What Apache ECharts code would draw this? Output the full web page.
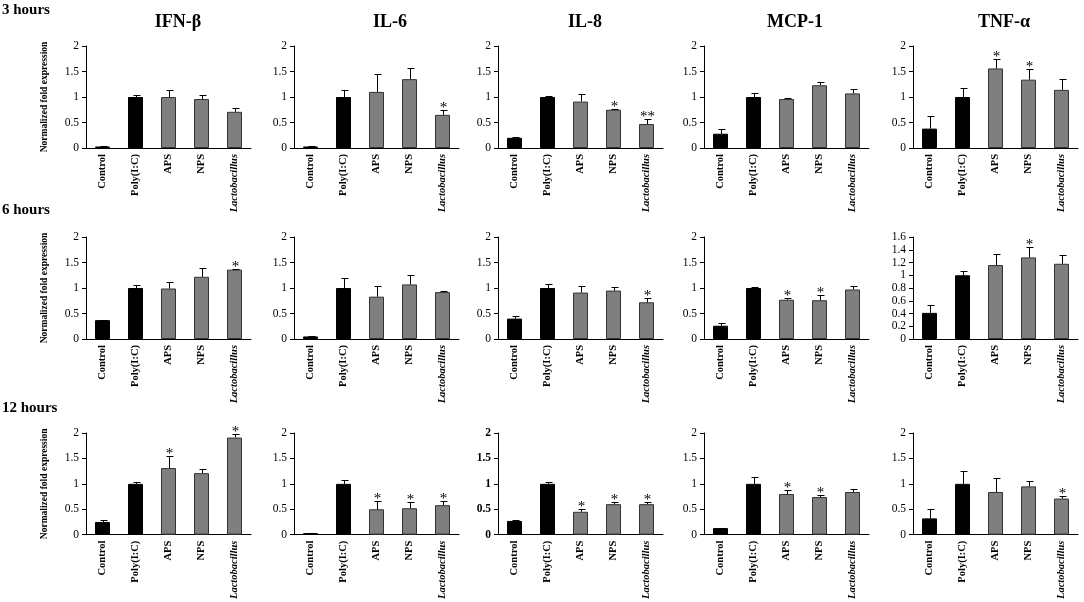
<!DOCTYPE html>
<html>
<head>
<meta charset="utf-8">
<script src="https://cdn.jsdelivr.net/npm/echarts@6/dist/echarts.min.js"></script>
<style>
  html, body { margin: 0; padding: 0; background: #fff; }
  #chart { width: 1084px; height: 602px; }
</style>
</head>
<body>
<div id="chart"></div>
<script>
// groups on the x axis and panel / row names
const categories = ['Control', 'Poly(I:C)', 'APS', 'NPS', 'Lactobacillus'];
const genes = ['IFN-β', 'IL-6', 'IL-8', 'MCP-1', 'TNF-α'];
const timepoints = ['3 hours', '6 hours', '12 hours'];

// 3 hours: one row per gene, values in category order
const mean3h = [
  [0.03, 1.00, 1.00, 0.96, 0.71],
  [0.03, 1.00, 1.10, 1.35, 0.65],
  [0.20, 1.00, 0.91, 0.75, 0.47],
  [0.28, 1.00, 0.96, 1.23, 1.07],
  [0.38, 1.00, 1.56, 1.34, 1.14]
];
const err3h = [
  [0.01, 0.04, 0.14, 0.07, 0.07],
  [0.01, 0.13, 0.35, 0.21, 0.10],
  [0.02, 0.02, 0.14, 0.02, 0.10],
  [0.09, 0.08, 0.02, 0.07, 0.09],
  [0.24, 0.18, 0.19, 0.20, 0.21]
];
const sig3h = [
  ['', '', '', '', ''],
  ['', '', '', '', '*'],
  ['', '', '', '*', '**'],
  ['', '', '', '', ''],
  ['', '', '*', '*', '']
];

// 6 hours
const mean6h = [
  [0.37, 1.00, 0.99, 1.22, 1.36],
  [0.05, 1.00, 0.83, 1.07, 0.92],
  [0.40, 1.00, 0.91, 0.95, 0.72],
  [0.26, 1.00, 0.77, 0.76, 0.97],
  [0.41, 1.00, 1.16, 1.28, 1.18]
];
const err6h = [
  [0.01, 0.06, 0.12, 0.17, 0.02],
  [0.01, 0.20, 0.20, 0.19, 0.03],
  [0.06, 0.07, 0.12, 0.06, 0.09],
  [0.05, 0.01, 0.04, 0.11, 0.07],
  [0.13, 0.06, 0.18, 0.17, 0.14]
];
const sig6h = [
  ['', '', '', '', '*'],
  ['', '', '', '', ''],
  ['', '', '', '', '*'],
  ['', '', '*', '*', ''],
  ['', '', '', '*', '']
];

// 12 hours
const mean12h = [
  [0.25, 1.00, 1.31, 1.21, 1.91],
  [0.03, 1.00, 0.50, 0.52, 0.58],
  [0.27, 1.00, 0.45, 0.60, 0.60],
  [0.13, 1.00, 0.80, 0.74, 0.84],
  [0.32, 1.00, 0.84, 0.95, 0.71]
];
const err12h = [
  [0.03, 0.04, 0.24, 0.08, 0.08],
  [0.01, 0.08, 0.16, 0.12, 0.09],
  [0.01, 0.04, 0.05, 0.05, 0.05],
  [0.01, 0.13, 0.07, 0.05, 0.05],
  [0.19, 0.26, 0.28, 0.11, 0.06]
];
const sig12h = [
  ['', '', '*', '', '*'],
  ['', '', '*', '*', '*'],
  ['', '', '*', '*', '*'],
  ['', '', '*', '*', ''],
  ['', '', '', '', '*']
];

// y axis ranges per time point and gene
const yMax = [[2, 2, 2, 2, 2], [2, 2, 2, 2, 1.6], [2, 2, 2, 2, 2]];
const yStep = [[0.5, 0.5, 0.5, 0.5, 0.5], [0.5, 0.5, 0.5, 0.5, 0.2], [0.5, 0.5, 0.5, 0.5, 0.5]];

const means = [mean3h, mean6h, mean12h];
const errs = [err3h, err6h, err12h];
const sigs = [sig3h, sig6h, sig12h];

const SERIF = '"Liberation Serif", "Times New Roman", serif';
const panelLeft = [86, 294, 498, 704, 913];
const panelWidth = 165;
const rowTop = [46, 237, 433];
const rowHeight = [102, 102, 103];
const titleX = [178, 390, 585, 795, 1004];

const grid = [], xAxis = [], yAxis = [], series = [];
const graphic = [];

timepoints.forEach((tp, r) => {
  graphic.push({
    type: 'text', left: 2, top: [3, 203, 401][r],
    style: { text: tp, font: 'bold 15px ' + SERIF, fill: '#000' }
  });
  genes.forEach((g, c) => {
    const k = grid.length;
    grid.push({ left: panelLeft[c], top: rowTop[r], width: panelWidth, height: rowHeight[r] });
    xAxis.push({
      type: 'category', gridIndex: k, data: categories,
      axisLine: { lineStyle: { color: '#000', width: 1 } },
      axisTick: { length: 4, lineStyle: { color: '#000' } },
      axisLabel: {
        rotate: 90, margin: 6, color: '#000',
        fontFamily: SERIF, fontWeight: 'bold', fontSize: 10.5,
        formatter: v => v === 'Lactobacillus' ? '{i|' + v + '}' : v,
        rich: { i: { fontStyle: 'italic', fontWeight: 'bold', fontFamily: SERIF, fontSize: 10.5, color: '#000' } }
      }
    });
    yAxis.push({
      type: 'value', gridIndex: k, min: 0, max: yMax[r][c], interval: yStep[r][c],
      name: c === 0 ? 'Normalized fold expression' : '',
      nameLocation: 'middle', nameGap: 36, nameRotate: 90,
      nameTextStyle: { fontFamily: SERIF, fontWeight: 'bold', fontSize: 9.5, color: '#000' },
      splitLine: { show: false },
      axisLine: { show: true, lineStyle: { color: '#000', width: 1 } },
      axisTick: { show: true, length: 4, lineStyle: { color: '#000' } },
      axisLabel: {
        color: '#000', fontFamily: SERIF, fontSize: 11.5, margin: 7,
        fontWeight: (r === 2 && c === 2) ? 'bold' : 'normal'
      }
    });
    const m = means[r][c], e = errs[r][c], s = sigs[r][c];
    series.push({
      type: 'bar', xAxisIndex: k, yAxisIndex: k, barWidth: 15,
      data: m.map((v, i) => ({
        value: v,
        itemStyle: i < 2
          ? { color: '#000', borderColor: '#000', borderWidth: 1 }
          : { color: '#7f7f7f', borderColor: '#333', borderWidth: 1 }
      })),
      animation: false
    });
    // upper error bar with cap, plus significance mark
    series.push({
      type: 'custom', xAxisIndex: k, yAxisIndex: k,
      data: m.map((v, i) => [i, v, e[i]]),
      renderItem: (params, api) => {
        const i = api.value(0), v = api.value(1), d = api.value(2);
        const p0 = api.coord([i, v]);
        const p1 = api.coord([i, v + d]);
        const x = Math.round(p0[0]) + 0.5;
        const y = Math.round(p1[1]) + 0.5;
        const children = [
          { type: 'line', shape: { x1: x, y1: p0[1], x2: x, y2: y }, style: { stroke: '#000', lineWidth: 1 } },
          { type: 'line', shape: { x1: x - 3, y1: y, x2: x + 4, y2: y }, style: { stroke: '#000', lineWidth: 1 } }
        ];
        const star = s[params.dataIndex];
        if (star) {
          children.push({
            type: 'text', x: x, y: y + 5,
            style: { text: star, font: '15px ' + SERIF, fill: '#000', textAlign: 'center', textVerticalAlign: 'bottom' }
          });
        }
        return { type: 'group', children };
      },
      z: 3, animation: false
    });
  });
});

genes.forEach((g, c) => {
  graphic.push({
    type: 'text', x: titleX[c], y: 13,
    style: { text: g, font: 'bold 18px ' + SERIF, fill: '#000', textAlign: 'center' }
  });
});

const chart = echarts.init(document.getElementById('chart'));
chart.setOption({
  animation: false,
  backgroundColor: '#fff',
  grid, xAxis, yAxis, series, graphic
});
</script>
</body>
</html>
